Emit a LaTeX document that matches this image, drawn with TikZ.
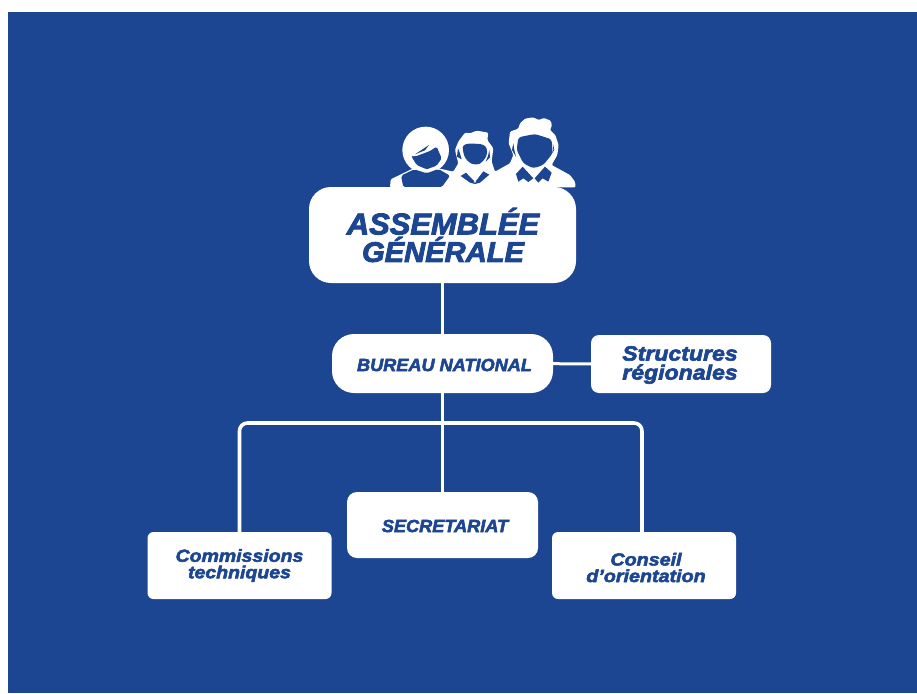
\documentclass[tikz,border=0pt]{standalone}
\usepackage{fontspec}
\setmainfont{Liberation Sans}
\newfontfamily\heavy[FakeBold=3,FakeStretch=1.03,BoldFont=*,ItalicFont=*]{Liberation Sans Bold Italic}
\newfontfamily\heavywide[FakeBold=3,FakeStretch=1.12,BoldFont=*,ItalicFont=*]{Liberation Sans Bold Italic}
\definecolor{bleu}{HTML}{1C4592}
\tikzset{
  box/.style={fill=white,draw=none,inner sep=0pt,align=center,text=bleu},
  label/.style={inner sep=0pt,align=center,text=bleu},
  link/.style={draw=white,line width=3.6pt},
}
\begin{document}
\begin{tikzpicture}[x=1pt,y=-1pt]
\useasboundingbox (0,0) rectangle (917,693);
\fill[white] (0,0) rectangle (917,693);
\fill[bleu] (8,12) rectangle (917,693);
% the three figures, in crop coordinates (one third of a point each)
\begin{scope}[shift={(370,100)},x=.3333pt,y=-.3333pt]
\fill[white,rounded corners=1.2pt] (60,262) -- (62,238) -- (130,205) -- (205,205) -- (250,215)
  -- (265,190) -- (255,150) -- (265,125) -- (285,98) -- (300,100) -- (320,92) -- (355,98) -- (352,120)
  -- (370,145) -- (365,185) -- (375,215) -- (420,190) -- (430,165) -- (416,130) -- (420,95)
  -- (445,86) -- (450,70) -- (465,56) -- (490,52) -- (506,60) -- (522,54) -- (542,62) -- (546,76) -- (540,90)
  -- (556,105) -- (566,135) -- (562,165) -- (545,195) -- (600,225) -- (615,245) -- (617,262) -- cycle;
\fill[white] (167,150) circle[radius=70];
% woman
\fill[bleu,rounded corners=1.5pt] (123,167) -- (135,170) -- (180,153) -- (200,140) -- (215,175) -- (200,197)
  -- (170,208) -- (140,195) -- cycle;
\fill[bleu] (135,163) -- (177,135) -- (165,151) -- cycle;
\fill[bleu,rounded corners=2pt] (93,227) -- (133,208) -- (170,220) -- (205,207) -- (240,227)
  -- (215,262) -- (100,262) -- cycle;
% child
\fill[bleu,rounded corners=3pt] (278,135) -- (300,130) -- (340,133) -- (352,145) -- (350,170)
  -- (330,193) -- (305,193) -- (285,175) -- (278,150) -- cycle;
\fill[bleu] (272,228) -- (288,218) -- (312,243) -- (315,252) -- (300,248) -- cycle;
\fill[bleu] (358,224) -- (340,214) -- (318,243) -- (315,252) -- (330,248) -- cycle;
\fill[bleu] (264,145) -- (261,170) -- (275,178) -- (270,160) -- cycle;
\fill[bleu] (358,150) -- (360,172) -- (347,185) -- (354,168) -- cycle;
% man
\fill[bleu,rounded corners=3pt] (445,112) -- (495,102) -- (545,118) -- (548,160) -- (520,195)
  -- (490,205) -- (460,190) -- (440,150) -- cycle;
\fill[bleu] (438,222) -- (458,200) -- (490,235) -- (475,246) -- (460,235) -- (445,245) -- cycle;
\fill[bleu] (545,218) -- (525,200) -- (494,235) -- (505,248) -- (518,235) -- (535,245) -- cycle;
\fill[bleu] (430,130) -- (426,150) -- (438,170) -- (433,150) -- cycle;
\fill[bleu] (549,132) -- (553,150) -- (541,168) -- (550,150) -- cycle;
\end{scope}
% boxes
\node[box,minimum width=267pt,minimum height=96pt,rounded corners=22pt] (ag) at (442.5,235) {};
\node[box,minimum width=221pt,minimum height=59pt,rounded corners=22pt] (bn) at (442.5,363.5) {};
\node[box,minimum width=180pt,minimum height=58pt,rounded corners=8pt] (sr) at (681,364) {};
\node[box,minimum width=191pt,minimum height=66pt,rounded corners=10pt] (se) at (442.5,525) {};
\node[box,minimum width=184pt,minimum height=67pt,rounded corners=6pt] (ct) at (239.5,565.5) {};
\node[box,minimum width=184pt,minimum height=67pt,rounded corners=6pt] (co) at (644,565.5) {};
\coordinate (mid) at (442.5,423);
\draw[link] (ag) -- (bn);
\draw[link,line width=3pt] (bn) -- (sr);
\draw[link] (bn) -- (se);
\draw[link,rounded corners=8pt] (ct.north) |- (mid) -| ([xshift=-2pt]co.north);
% labels
\node[label,font=\heavy\fontsize{30}{27.5}\selectfont] (t1) at (443,235) {ASSEMBLÉE\\\fontsize{28.3}{27.5}\selectfont GÉNÉRALE};
\node[label,font=\heavy\fontsize{17.6}{18}\selectfont] (t2) at (444.5,365) {BUREAU NATIONAL};
\node[label,font=\heavywide\fontsize{20.6}{19}\selectfont] (t3) at (680,365) {Structures\\régionales};
\node[label,font=\heavy\fontsize{17.6}{17}\selectfont] (t4) at (445,526) {SECRETARIAT};
\node[label,font=\heavywide\fontsize{17.4}{16.5}\selectfont] (t5) at (239.5,565.5) {Commissions\\techniques};
\node[label,font=\heavywide\fontsize{17.6}{16.5}\selectfont] (t6) at (646,567.5) {Conseil\\d’orientation};
\end{tikzpicture}
\end{document}
